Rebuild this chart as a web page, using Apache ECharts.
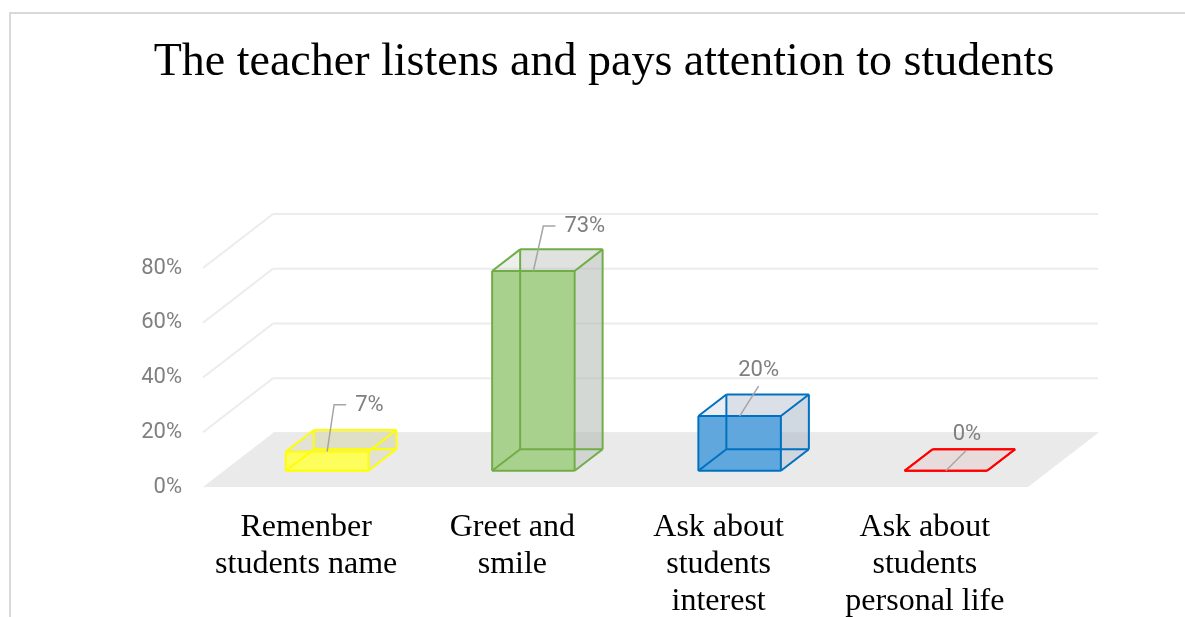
<!DOCTYPE html>
<html>
<head>
<meta charset="utf-8">
<script src="https://cdn.jsdelivr.net/npm/echarts@6/dist/echarts.min.js"></script>
<style>
  html, body { margin: 0; padding: 0; background: #ffffff; }
  #chart { width: 1185px; height: 617px; }
</style>
</head>
<body>
<div id="chart"></div>
<script>
// ---- data ----
var TITLE = 'The teacher listens and pays attention to students';
var categories = [
  'Remenber\nstudents name',
  'Greet and\nsmile',
  'Ask about\nstudents\ninterest',
  'Ask about\nstudents\npersonal life'
];
var values = [7, 73, 20, 0];
var yTicks = [0, 20, 40, 60, 80];

// ---- styles ----
var EDGE = ['#ffff00', '#70ad47', '#0070c0', '#ff0000'];
var FRONT = ['#fdfd5c', '#a9d18e', '#5fa7dd', '#e7dbdb'];
var SIDE = ['rgba(215,215,175,0.4)', 'rgba(173,183,175,0.4)', 'rgba(170,185,202,0.4)', 'rgba(235,205,205,0.6)'];
var TOP = ['rgba(215,215,175,0.35)', 'rgba(173,183,175,0.22)', 'rgba(170,185,202,0.25)', 'rgba(235,205,205,0.6)'];
// label leader layout: [type, leaderDx, leaderDy, textDx, textDy]
var LABEL_LAYOUT = [
  ['elbow', 7, -47, 28, -46],
  ['elbow', 10, -45, 31, -44],
  ['straight', 19, -30, 19, -46],
  ['straight', 20, -20, 21, -36]
];
var DX = 70, DY = -54;      // depth vector of the 3D floor
var F1 = 0.30, F2 = 0.70;   // depth fractions of bar front / back faces

var chart = echarts.init(document.getElementById('chart'), null, { renderer: 'canvas' });

function wallsItem(params, api) {
  var cs = params.coordSys;
  var left = cs.x, right = cs.x + cs.width;
  var children = [];
  yTicks.forEach(function (v) {
    var y = api.coord([0, v])[1];
    if (v !== 0) {
      children.push({ type: 'line', shape: { x1: left, y1: y, x2: left + DX, y2: y + DY },
        style: { stroke: '#ececec', lineWidth: 2 } });
    }
    children.push({ type: 'line', shape: { x1: left + DX, y1: y + DY, x2: right + DX, y2: y + DY },
      style: { stroke: '#ececec', lineWidth: 2 } });
  });
  var y0 = api.coord([0, 0])[1];
  children.push({ type: 'polygon',
    shape: { points: [[left, y0], [right, y0], [right + DX, y0 + DY], [left + DX, y0 + DY]] },
    style: { fill: '#eaeaea' } });
  return { type: 'group', children: children };
}

function barItem(params, api) {
  var i = api.value(0), v = api.value(1);
  var idx = params.dataIndex;
  var base = api.coord([i, 0]);
  var top = api.coord([i, v]);
  var band = api.size([1, 0])[0];
  var w = band * 0.4;
  var cx = base[0] + F1 * DX;
  var x0 = cx - w / 2, x1 = cx + w / 2;
  var yb = base[1] + F1 * DY, yt = top[1] + F1 * DY;
  var ox = (F2 - F1) * DX, oy = (F2 - F1) * DY;
  var edge = EDGE[idx], side = SIDE[idx], front = FRONT[idx], topc = TOP[idx];
  var ch = [];
  // back face
  ch.push({ type: 'polygon', shape: { points: [[x0 + ox, yb + oy], [x1 + ox, yb + oy], [x1 + ox, yt + oy], [x0 + ox, yt + oy]] },
    style: { fill: topc } });
  // right face
  ch.push({ type: 'polygon', shape: { points: [[x1, yb], [x1 + ox, yb + oy], [x1 + ox, yt + oy], [x1, yt]] },
    style: { fill: side } });
  // top face
  ch.push({ type: 'polygon', shape: { points: [[x0, yt], [x1, yt], [x1 + ox, yt + oy], [x0 + ox, yt + oy]] },
    style: { fill: v === 0 ? front : topc } });
  // front face
  if (yb - yt > 0.5) {
    ch.push({ type: 'rect', shape: { x: x0, y: yt, width: w, height: yb - yt }, style: { fill: front } });
  }
  // edges
  var segs = [
    [x0, yb, x1, yb], [x1, yb, x1, yt], [x1, yt, x0, yt], [x0, yt, x0, yb],
    [x0 + ox, yb + oy, x1 + ox, yb + oy], [x1 + ox, yb + oy, x1 + ox, yt + oy],
    [x1 + ox, yt + oy, x0 + ox, yt + oy], [x0 + ox, yt + oy, x0 + ox, yb + oy],
    [x0, yb, x0 + ox, yb + oy], [x1, yb, x1 + ox, yb + oy],
    [x1, yt, x1 + ox, yt + oy], [x0, yt, x0 + ox, yt + oy]
  ];
  segs.forEach(function (s) {
    ch.push({ type: 'line', shape: { x1: s[0], y1: s[1], x2: s[2], y2: s[3] },
      style: { stroke: edge, lineWidth: 2 } });
  });
  // label + leader
  var L = LABEL_LAYOUT[idx];
  var ax = cx, ay = yt;
  if (L[0] === 'elbow') {
    ch.push({ type: 'polyline', shape: { points: [[ax, ay], [ax + L[1], ay + L[2]], [ax + L[1] + 12, ay + L[2]]] },
      style: { stroke: '#a5a5a5', lineWidth: 1.5, fill: null } });
    ch.push({ type: 'text', style: { text: v + '%', x: ax + L[3], y: ay + L[4], textAlign: 'left', textVerticalAlign: 'middle',
      fill: '#7f7f7f', font: '22px Roboto' } });
  } else {
    ch.push({ type: 'line', shape: { x1: ax, y1: ay, x2: ax + L[1], y2: ay + L[2] },
      style: { stroke: '#a5a5a5', lineWidth: 1.5 } });
    ch.push({ type: 'text', style: { text: v + '%', x: ax + L[3], y: ay + L[4], textAlign: 'center', textVerticalAlign: 'middle',
      fill: '#7f7f7f', font: '22px Roboto' } });
  }
  return { type: 'group', children: ch };
}

var option = {
  animation: false,
  backgroundColor: '#ffffff',
  title: {
    text: TITLE,
    left: 599,
    textAlign: 'center',
    top: 35,
    textStyle: { fontFamily: 'Liberation Serif', fontSize: 46, fontWeight: 'normal', color: '#000000' }
  },
  graphic: [{
    type: 'rect', z: -10, silent: true,
    shape: { x: 10, y: 13, width: 1400, height: 800 },
    style: { fill: null, stroke: '#d9d9d9', lineWidth: 2 }
  }],
  grid: { left: 203, right: 157, top: 268, bottom: 130, outerBoundsMode: 'none', containLabel: false },
  xAxis: {
    type: 'category',
    data: categories,
    axisLine: { show: false },
    axisTick: { show: false },
    splitLine: { show: false },
    axisLabel: {
      interval: 0, margin: 22,
      fontFamily: 'Liberation Serif', fontSize: 32, lineHeight: 37, color: '#000000', align: 'center'
    }
  },
  yAxis: {
    type: 'value',
    min: 0, max: 80, interval: 20,
    axisLine: { show: false },
    axisTick: { show: false },
    splitLine: { show: false },
    axisLabel: { formatter: '{value}%', margin: 21, fontFamily: 'Roboto', fontSize: 22, color: '#808080' }
  },
  series: [
    { type: 'custom', renderItem: wallsItem, data: [[0, 0]], clip: false, silent: true, z: 1 },
    { type: 'custom', renderItem: barItem, clip: false, silent: true, z: 2,
      data: values.map(function (v, i) { return [i, v]; }) }
  ]
};
chart.setOption(option);
</script>
</body>
</html>
